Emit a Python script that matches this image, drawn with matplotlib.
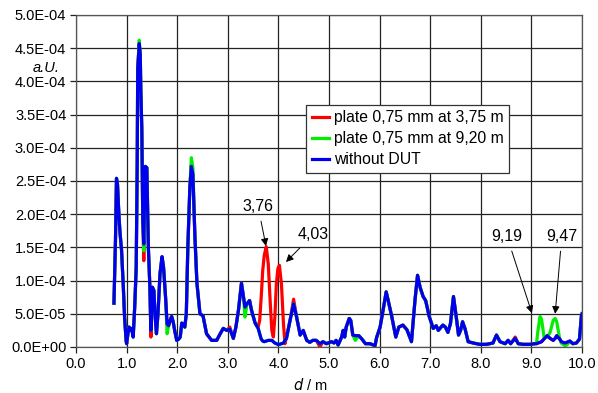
import matplotlib
matplotlib.use("Agg")
import matplotlib.pyplot as plt
import numpy as np

plt.rcParams['font.family'] = ['Liberation Sans', 'DejaVu Sans']

# distance grid (m) and "without DUT" signal in units of 1e-4 a.U.
d = [0.75, 0.78, 0.80, 0.82, 0.85, 0.87, 0.90, 0.935, 0.96, 0.99,
     1.00, 1.03, 1.05, 1.08, 1.10, 1.13, 1.16, 1.19, 1.21, 1.22,
     1.25, 1.27, 1.28, 1.30, 1.32, 1.34, 1.36, 1.37, 1.40, 1.43,
     1.46, 1.48, 1.51, 1.54, 1.56, 1.59, 1.62, 1.66, 1.70, 1.73,
     1.77, 1.80, 1.83, 1.86, 1.89, 1.92, 1.95, 1.99, 2.03, 2.06,
     2.09, 2.12, 2.15, 2.18, 2.21, 2.25, 2.28, 2.31, 2.35, 2.39,
     2.45, 2.51, 2.58, 2.68, 2.78, 2.85, 2.91, 2.98, 3.04, 3.11,
     3.16, 3.21, 3.27, 3.31, 3.34, 3.38, 3.43, 3.47, 3.54, 3.60,
     3.63, 3.66, 3.69, 3.72, 3.76, 3.80, 3.84, 3.87, 3.90, 3.93,
     3.96, 3.99, 4.02, 4.06, 4.10, 4.13, 4.16, 4.23, 4.30, 4.36,
     4.43, 4.49, 4.56, 4.62, 4.68, 4.75, 4.82, 4.88, 4.95, 5.05,
     5.10, 5.14, 5.18, 5.25, 5.28, 5.31, 5.34, 5.40, 5.43, 5.47,
     5.52, 5.59, 5.65, 5.72, 5.81, 5.91, 5.94, 6.01, 6.07, 6.13,
     6.17, 6.24, 6.32, 6.38, 6.46, 6.54, 6.63, 6.70, 6.75, 6.80,
     6.86, 6.91, 6.98, 7.06, 7.12, 7.16, 7.25, 7.30, 7.35, 7.40,
     7.46, 7.51, 7.56, 7.60, 7.64, 7.69, 7.75, 7.85, 7.98, 8.11,
     8.24, 8.31, 8.38, 8.48, 8.54, 8.59, 8.68, 8.74, 8.84, 8.97,
     9.07, 9.10, 9.13, 9.17, 9.20, 9.25, 9.31, 9.37, 9.43, 9.47,
     9.50, 9.56, 9.59, 9.66, 9.70, 9.76, 9.82, 9.89, 9.95, 9.99,
     10.0]

without_dut = [0.66, 1.60, 2.54, 2.45, 1.95, 1.72, 1.46, 0.91, 0.45, 0.10,
               0.05, 0.22, 0.30, 0.25, 0.28, 0.15, 0.60, 1.20, 2.80, 4.20,
               4.57, 4.40, 3.92, 3.30, 1.90, 1.55, 2.50, 2.72, 2.70, 1.50,
               0.90, 0.25, 0.90, 0.85, 0.50, 0.20, 0.50, 1.10, 1.36, 1.20,
               0.75, 0.35, 0.32, 0.40, 0.46, 0.38, 0.25, 0.10, 0.12, 0.15,
               0.36, 0.34, 0.30, 0.50, 1.50, 2.40, 2.72, 2.60, 1.66, 0.96,
               0.50, 0.47, 0.20, 0.10, 0.10, 0.20, 0.28, 0.25, 0.27, 0.13,
               0.30, 0.55, 0.96, 0.75, 0.60, 0.65, 0.70, 0.55, 0.36, 0.28,
               0.20, 0.12, 0.09, 0.08, 0.09, 0.10, 0.10, 0.10, 0.08, 0.06,
               0.05, 0.04, 0.04, 0.05, 0.06, 0.10, 0.13, 0.40, 0.65, 0.45,
               0.18, 0.25, 0.10, 0.07, 0.10, 0.10, 0.05, 0.08, 0.05, 0.08,
               0.06, 0.10, 0.03, 0.15, 0.25, 0.15, 0.30, 0.43, 0.40, 0.18,
               0.17, 0.17, 0.12, 0.05, 0.05, 0.02, 0.14, 0.30, 0.56, 0.83,
               0.70, 0.46, 0.15, 0.30, 0.33, 0.26, 0.08, 0.71, 1.08, 0.90,
               0.76, 0.70, 0.46, 0.28, 0.32, 0.25, 0.33, 0.30, 0.22, 0.35,
               0.76, 0.48, 0.18, 0.25, 0.38, 0.27, 0.08, 0.06, 0.04, 0.04,
               0.06, 0.18, 0.08, 0.05, 0.10, 0.05, 0.13, 0.05, 0.04, 0.04,
               0.05, 0.05, 0.06, 0.07, 0.08, 0.12, 0.17, 0.13, 0.10, 0.13,
               0.17, 0.12, 0.08, 0.06, 0.07, 0.09, 0.05, 0.06, 0.12, 0.48,
               0.50]

# points where the plate measurements differ from "without DUT"
plate_375_diff = {1.28: 3.85, 1.34: 1.30, 1.48: 0.15, 2.28: 2.75, 3.04: 0.30,
                  3.60: 0.30, 3.63: 0.40, 3.66: 0.75, 3.69: 1.15, 3.72: 1.38,
                  3.76: 1.51, 3.80: 1.25, 3.84: 0.65, 3.87: 0.25, 3.90: 0.15,
                  3.93: 0.45, 3.96: 0.95, 3.99: 1.18, 4.02: 1.23, 4.06: 0.95,
                  4.10: 0.35, 4.13: 0.05, 4.16: 0.15, 4.30: 0.72, 4.82: 0.00,
                  8.68: 0.15}
plate_920_diff = {1.25: 4.62, 1.34: 1.45, 1.80: 0.20, 2.28: 2.85, 2.31: 2.70,
                  3.34: 0.45, 5.52: 0.10, 9.13: 0.25, 9.17: 0.46, 9.20: 0.42,
                  9.25: 0.15, 9.31: 0.15, 9.37: 0.22, 9.43: 0.40, 9.47: 0.43,
                  9.50: 0.38, 9.56: 0.12, 9.59: 0.06, 9.66: 0.02, 9.70: 0.03,
                  9.76: 0.08}

plate_375 = [plate_375_diff.get(x, y) for x, y in zip(d, without_dut)]
plate_920 = [plate_920_diff.get(x, y) for x, y in zip(d, without_dut)]

labels = ["plate 0,75 mm at 3,75 m", "plate 0,75 mm at 9,20 m", "without DUT"]
x_ticks = np.arange(0, 10.01, 1.0)
y_ticks = np.arange(0, 5.01e-4, 0.5e-4)

# annotations: text, text position, arrow tip
notes = [("3,76", (3.60, 2.11e-4), (3.755, 1.52e-4)),
         ("4,03", (4.68, 1.69e-4), (4.15, 1.28e-4)),
         ("9,19", (8.52, 1.66e-4), (9.01, 0.51e-4)),
         ("9,47", (9.60, 1.66e-4), (9.47, 0.50e-4))]

fig = plt.figure(figsize=(5.98, 3.93), dpi=100)
ax = fig.add_axes([76/598, 1-347/393, 506/598, 332/393])

scale = 1e-4
ax.plot(d, np.array(plate_375)*scale, color="#ff0000", lw=2.3, label=labels[0], solid_joinstyle="round")
ax.plot(d, np.array(plate_920)*scale, color="#00ee00", lw=2.3, label=labels[1], solid_joinstyle="round")
ax.plot(d, np.array(without_dut)*scale, color="#0000ee", lw=2.3, label=labels[2], solid_joinstyle="round")

ax.set_xlim(0, 10)
ax.set_ylim(0, 5e-4)
ax.set_xticks(x_ticks)
ax.set_yticks(y_ticks)
ax.set_xticklabels([f"{t:.1f}" for t in x_ticks])
ax.set_yticklabels([f"{t:.1E}" for t in y_ticks])
ax.grid(True, color="#222222", lw=0.9)
ax.set_axisbelow(True)
ax.tick_params(direction="out", length=4, width=0.9, color="#222222", labelsize=10.5, pad=3)
for s in ax.spines.values():
    s.set_color("#555555")
    s.set_linewidth(0.9)

for txt, pos, tip in notes:
    ax.annotate(txt, xy=tip, xytext=pos, ha="center", va="center", fontsize=11.5,
                arrowprops=dict(arrowstyle="-|>", color="black", lw=0.7,
                                mutation_scale=11, shrinkA=3, shrinkB=0))

leg = ax.legend(loc="upper left", bbox_to_anchor=(0.455, 0.729), fontsize=11.3,
                fancybox=False, framealpha=1, edgecolor="#333333",
                handlelength=1.1, handletextpad=0.3, borderpad=0.35,
                labelspacing=0.38, borderaxespad=0)
leg.get_frame().set_linewidth(0.9)

fig.text(46/598, 1-68/393, "a.U.", style="italic", fontsize=10.5, ha="center", va="center")
fig.text(310/598, 1-385/393, r"$\mathit{d}$ / m", fontsize=10.5, ha="center", va="center")

fig.savefig("out.png", dpi=100)
